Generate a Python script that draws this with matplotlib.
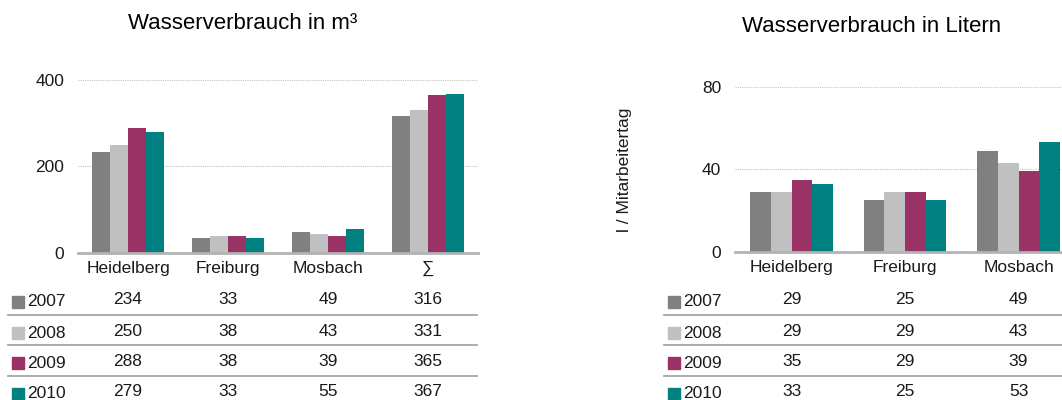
import numpy as np
import matplotlib.pyplot as plt
import matplotlib.transforms as mtransforms
from matplotlib.patches import Rectangle

plt.rcParams['font.family'] = ['Liberation Sans', 'DejaVu Sans']

# data
years = ["2007", "2008", "2009", "2010"]
colors = ["#808080", "#c0c0c0", "#993366", "#008080"]

cats_m3 = ["Heidelberg", "Freiburg", "Mosbach", "∑"]
m3_2007 = [234, 33, 49, 316]
m3_2008 = [250, 38, 43, 331]
m3_2009 = [288, 38, 39, 365]
m3_2010 = [279, 33, 55, 367]

cats_l = ["Heidelberg", "Freiburg", "Mosbach"]
l_2007 = [29, 25, 49]
l_2008 = [29, 29, 43]
l_2009 = [35, 29, 39]
l_2010 = [33, 25, 53]

W, H = 1062, 400
fig = plt.figure(figsize=(W / 100, H / 100), dpi=100)


def px(x, y):
    # pixel (from top-left) -> figure fraction
    return x / W, 1 - y / H


def draw_chart(ax, cats, series, ymax, yticks, line_x0, line_x1, key_x):
    n = len(series)
    bw = 0.727 / n
    x = np.arange(len(cats))
    for i, vals in enumerate(series):
        ax.bar(x - 0.727 / 2 + bw * (i + 0.5), vals, bw, color=colors[i], zorder=3)
    ax.set_ylim(0, ymax)
    ax.set_yticks(yticks)
    ax.set_xticks(x)
    ax.set_xticklabels(cats)
    ax.tick_params(axis='both', length=0, labelsize=12.5, colors='#1a1a1a')
    ax.tick_params(axis='y', pad=10)
    ax.tick_params(axis='x', pad=6)
    for s in ["top", "right", "left"]:
        ax.spines[s].set_visible(False)
    ax.spines["bottom"].set_color("#b3b3b3")
    ax.spines["bottom"].set_linewidth(2)
    ax.spines["bottom"].set_zorder(4)
    ax.yaxis.grid(True, color="#c4c4c4", linewidth=0.8, linestyle=(0, (1, 1)), zorder=0)

    # data table below the chart
    trans = mtransforms.blended_transform_factory(ax.transData, fig.transFigure)
    row_y = [300, 331, 361, 392]
    for r, vals in enumerate(series):
        yf = 1 - row_y[r] / H
        for c, v in enumerate(vals):
            fig.text(x[c], yf, str(v), transform=trans, ha='center', va='center',
                     fontsize=12.5, color='#1a1a1a')
        x0, y0 = px(key_x, row_y[r] - 6 + 2)
        fig.patches.append(Rectangle((x0, y0 - 12 / H), 12 / W, 12 / H,
                                     transform=fig.transFigure, color=colors[r]))
        fig.text(*px(key_x + 15, row_y[r] + 2), years[r], ha='left', va='center',
                 fontsize=12.5, color='#1a1a1a')
    for ly in [315, 345, 376]:
        fig.add_artist(plt.Line2D([line_x0 / W, line_x1 / W], [1 - ly / H] * 2,
                                  transform=fig.transFigure, color="#a6a6a6", linewidth=1.3))


# left chart: m³
ax1 = fig.add_axes([78 / W, 1 - 252.7 / H, 400 / W, 172.7 / H])
draw_chart(ax1, cats_m3, [m3_2007, m3_2008, m3_2009, m3_2010], 400, [0, 200, 400],
           8, 477, 12)
ax1.set_xlim(-0.5, 3.5)
fig.text(*px(243, 29), "Wasserverbrauch in m³", ha='center', va='baseline', fontsize=16)

# right chart: litres per employee day (cut off at the right edge)
ax2 = fig.add_axes([735 / W, 1 - 251.7 / H, 453.6 / W, 165 / H])
draw_chart(ax2, cats_l, [l_2007, l_2008, l_2009, l_2010], 80, [0, 40, 80],
           664, 1070, 668)
ax2.set_xlim(-0.5, 3.5)
fig.text(*px(872, 32), "Wasserverbrauch in Litern", ha='center', va='baseline', fontsize=16)
fig.text(*px(625, 170), "l / Mitarbeitertag", ha='center', va='center', rotation=90,
         fontsize=12.5, color='#1a1a1a')

fig.savefig("out.png", dpi=100)
